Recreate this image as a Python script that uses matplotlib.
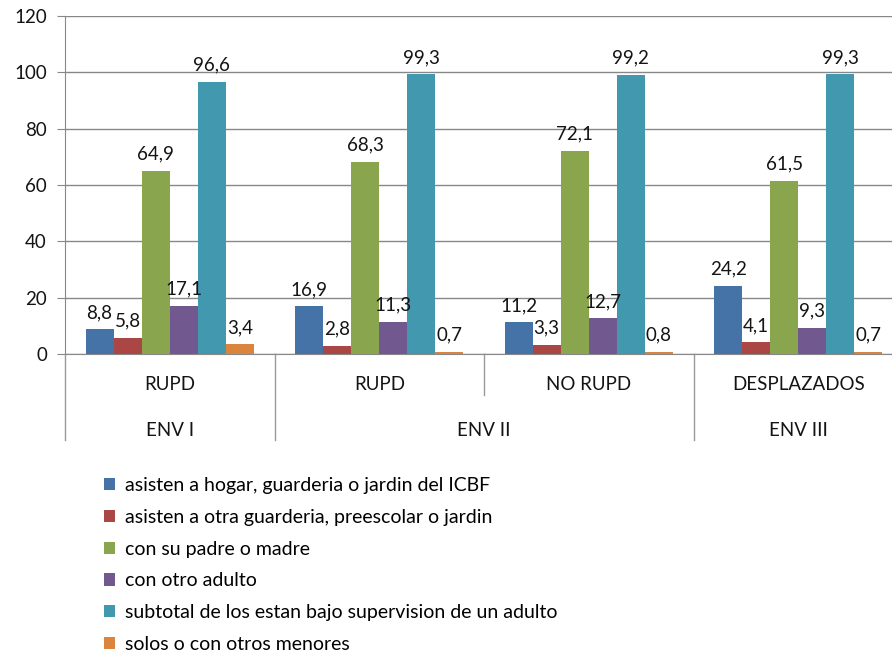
import matplotlib
matplotlib.use("Agg")
import matplotlib.pyplot as plt
from matplotlib.patches import Patch
import numpy as np

plt.rcParams['font.family'] = ['Lato', 'DejaVu Sans']

level1 = ["RUPD", "RUPD", "NO RUPD", "DESPLAZADOS"]
level2 = ["ENV I", "ENV II", "ENV III"]
level2_span = [(0, 0), (1, 2), (3, 3)]
series = [
    "asisten a hogar, guarderia o jardin del ICBF",
    "asisten a otra guarderia, preescolar o jardin",
    "con su padre o madre",
    "con otro adulto",
    "subtotal de los estan bajo supervision de un adulto",
    "solos o con otros menores",
]
values = [
    [8.8, 16.9, 11.2, 24.2],
    [5.8, 2.8, 3.3, 4.1],
    [64.9, 68.3, 72.1, 61.5],
    [17.1, 11.3, 12.7, 9.3],
    [96.6, 99.3, 99.2, 99.3],
    [3.4, 0.7, 0.8, 0.7],
]
colors = ["#4572A7", "#AA4643", "#89A54E", "#71588F", "#4198AF", "#DB843D"]

W, H = 892, 652
fig = plt.figure(figsize=(W / 100, H / 100), dpi=100)
ax_left, ax_right, ax_top, ax_bot = 65, 903, 16, 354
ax = fig.add_axes([ax_left / W, 1 - ax_bot / H, (ax_right - ax_left) / W, (ax_bot - ax_top) / H])

fs = 13.5
txt_c = "#141414"
grid_c = "#888888"
n = len(series)
bw = 0.134
x = np.arange(len(level1))
for i, (name, vals, c) in enumerate(zip(series, values, colors)):
    xs = x + (i - (n - 1) / 2) * bw
    ax.bar(xs, vals, width=bw, color=c, zorder=3, label=name)
    for xi, v in zip(xs, vals):
        ax.annotate(f"{v:.1f}".replace(".", ","), (xi, v), xytext=(0, 6),
                    textcoords="offset points", ha="center", va="bottom",
                    fontsize=fs, color=txt_c, zorder=5)

ax.set_xlim(-0.5, len(level1) - 0.5)
ax.set_ylim(0, 120)
ax.set_yticks(np.arange(0, 121, 20))
ax.yaxis.grid(True, color=grid_c, linewidth=1, zorder=0)
ax.set_axisbelow(True)
ax.tick_params(axis="y", direction="out", length=6, color=grid_c, labelsize=fs,
               labelcolor=txt_c, pad=7)
ax.set_xticks([])
for s in ["top", "right"]:
    ax.spines[s].set_visible(False)
ax.spines["left"].set_color(grid_c)
ax.spines["bottom"].set_color(grid_c)

ah = ax_bot - ax_top
def yax(px):
    return -(px - ax_bot) / ah

# vertical separators
lc = "#999999"
full_bounds = [-0.5, 0.5, 2.5]
for b in full_bounds:
    ax.plot([b, b], [0, yax(440)], transform=ax.get_xaxis_transform(), color=lc,
            lw=1, clip_on=False)
ax.plot([1.5, 1.5], [0, yax(395)], transform=ax.get_xaxis_transform(), color=lc,
        lw=1, clip_on=False)

for xi, lab in zip(x, level1):
    ax.text(xi, yax(384), lab, transform=ax.get_xaxis_transform(), ha="center",
            va="center", fontsize=fs, color=txt_c)
for lab, (a, b) in zip(level2, level2_span):
    ax.text((a + b) / 2, yax(430), lab, transform=ax.get_xaxis_transform(),
            ha="center", va="center", fontsize=fs, color=txt_c)

handles = [Patch(facecolor=c, edgecolor="none") for c in colors]
fig.legend(handles, series, loc="upper left", bbox_to_anchor=(104 / W, 1 - 477 / H),
           frameon=False, fontsize=14, handlelength=0.58, handleheight=0.58,
           handletextpad=0.5, labelspacing=0.76, borderaxespad=0, borderpad=0)

fig.savefig("out.png", dpi=100)
